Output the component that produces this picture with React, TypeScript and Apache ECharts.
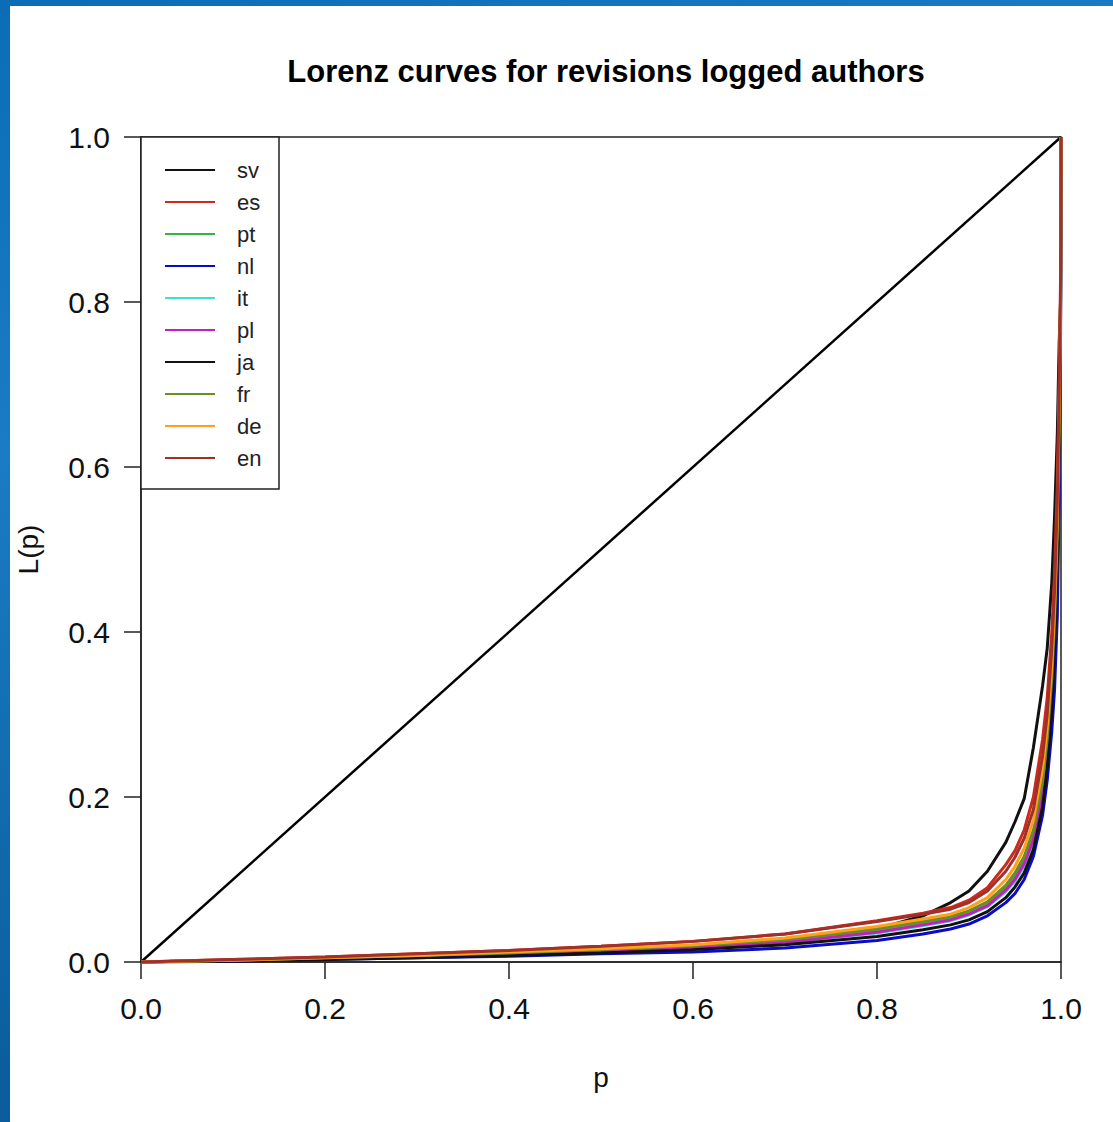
import React, { useEffect, useRef } from "react";
import * as echarts from "echarts";

const titleText = "Lorenz curves for revisions logged authors";
const xName = "p";
const yName = "L(p)";

const languages = ["sv", "es", "pt", "nl", "it", "pl", "ja", "fr", "de", "en"];
const colors = ["#111111", "#cc2a1a", "#3cb043", "#0a0acc", "#3fe0d0", "#c020c0", "#111111", "#6b8e23", "#ff9f1a", "#a0302a"];

const pValues = [0, 0.1, 0.2, 0.3, 0.4, 0.5, 0.6, 0.7, 0.8, 0.85, 0.88, 0.9, 0.92, 0.94, 0.95, 0.96, 0.97, 0.98, 0.985, 0.99, 0.993, 0.996, 0.998, 0.9995, 1.0];

const sv = [0, 0.002, 0.004, 0.006, 0.009, 0.012, 0.017, 0.025, 0.040, 0.056, 0.072, 0.086, 0.110, 0.145, 0.170, 0.198, 0.260, 0.335, 0.380, 0.460, 0.540, 0.640, 0.750, 0.800, 1.0];
const es = [0, 0.003, 0.006, 0.010, 0.014, 0.019, 0.025, 0.034, 0.050, 0.059, 0.066, 0.075, 0.090, 0.118, 0.135, 0.160, 0.200, 0.270, 0.320, 0.400, 0.470, 0.580, 0.700, 0.800, 1.0];
const pt = [0, 0.002, 0.004, 0.007, 0.010, 0.014, 0.018, 0.025, 0.037, 0.046, 0.052, 0.059, 0.070, 0.089, 0.103, 0.122, 0.152, 0.210, 0.258, 0.330, 0.400, 0.505, 0.630, 0.780, 1.0];
const nl = [0, 0.001, 0.003, 0.005, 0.007, 0.010, 0.012, 0.017, 0.026, 0.034, 0.040, 0.046, 0.056, 0.072, 0.083, 0.100, 0.128, 0.178, 0.220, 0.280, 0.330, 0.420, 0.560, 0.760, 1.0];
const it = [0, 0.002, 0.004, 0.007, 0.010, 0.013, 0.017, 0.024, 0.035, 0.044, 0.050, 0.057, 0.067, 0.085, 0.098, 0.116, 0.145, 0.200, 0.248, 0.320, 0.390, 0.495, 0.620, 0.780, 1.0];
const pl = [0, 0.002, 0.004, 0.007, 0.010, 0.013, 0.017, 0.024, 0.036, 0.045, 0.051, 0.058, 0.068, 0.087, 0.100, 0.119, 0.148, 0.205, 0.252, 0.325, 0.395, 0.500, 0.625, 0.780, 1.0];
const ja = [0, 0.001, 0.003, 0.005, 0.008, 0.011, 0.015, 0.021, 0.031, 0.039, 0.045, 0.051, 0.061, 0.078, 0.091, 0.108, 0.136, 0.188, 0.235, 0.305, 0.375, 0.480, 0.610, 0.770, 1.0];
const fr = [0, 0.002, 0.005, 0.008, 0.011, 0.015, 0.020, 0.027, 0.040, 0.049, 0.055, 0.062, 0.073, 0.093, 0.108, 0.128, 0.160, 0.220, 0.270, 0.345, 0.415, 0.520, 0.650, 0.790, 1.0];
const de = [0, 0.002, 0.005, 0.008, 0.012, 0.016, 0.021, 0.029, 0.043, 0.052, 0.058, 0.066, 0.078, 0.100, 0.116, 0.138, 0.172, 0.235, 0.285, 0.360, 0.430, 0.540, 0.670, 0.810, 1.0];
const en = [0, 0.003, 0.006, 0.010, 0.014, 0.019, 0.025, 0.034, 0.049, 0.058, 0.064, 0.072, 0.086, 0.110, 0.127, 0.150, 0.185, 0.250, 0.300, 0.380, 0.450, 0.560, 0.690, 0.830, 1.0];

const curves = [sv, es, pt, nl, it, pl, ja, fr, de, en];
const diagonal = [[0, 0], [1, 1]];

const FONT = "'Liberation Sans', Arial, Helvetica, sans-serif";

export default function App() {
  const ref = useRef<HTMLDivElement>(null);

  useEffect(() => {
    document.body.style.margin = "0";
    const chart = echarts.init(ref.current!, null, { renderer: "svg" });

    const gridLeft = 131;
    const gridTop = 131;

    const series: any[] = [
      {
        name: "equality",
        type: "line",
        data: diagonal,
        showSymbol: false,
        symbol: "none",
        lineStyle: { color: "#000", width: 2.5 },
        z: 2,
      },
    ];
    languages.forEach((lang, i) => {
      series.push({
        name: lang,
        type: "line",
        data: pValues.map((p, j) => [p, curves[i][j]]),
        showSymbol: false,
        symbol: "none",
        lineStyle: { color: colors[i], width: 3 },
        z: 3,
      });
    });

    const legendItems: any[] = [
      {
        type: "rect",
        shape: { x: gridLeft, y: gridTop, width: 138, height: 352 },
        style: { fill: "#fff", stroke: "#222", lineWidth: 1.5 },
        z: 10,
      },
    ];
    languages.forEach((lang, i) => {
      const y = 164 + 32 * i;
      legendItems.push({
        type: "line",
        shape: { x1: 155, y1: y, x2: 205, y2: y },
        style: { stroke: colors[i], lineWidth: 2 },
        z: 11,
      });
      legendItems.push({
        type: "text",
        x: 227,
        y: y,
        style: {
          text: lang,
          font: `22px ${FONT}`,
          fill: "#222",
          verticalAlign: "middle",
        },
        z: 11,
      });
    });

    const axisCommon = {
      type: "value" as const,
      min: 0,
      max: 1,
      interval: 0.2,
      splitLine: { show: false },
      axisLine: { show: true, onZero: false, lineStyle: { color: "#222", width: 1.5 } },
      axisTick: { show: true, length: 17, lineStyle: { color: "#222", width: 1.5 } },
      axisLabel: {
        showMinLabel: true,
        showMaxLabel: true,
        fontFamily: FONT,
        fontSize: 30,
        color: "#111",
        formatter: (v: number) => v.toFixed(1),
      },
      nameLocation: "middle" as const,
      nameTextStyle: { fontFamily: FONT, fontSize: 28, color: "#111" },
    };

    chart.setOption({
      animation: false,
      backgroundColor: "#ffffff",
      title: {
        text: titleText,
        left: 591,
        top: 45,
        textAlign: "center",
        textStyle: { fontFamily: FONT, fontSize: 31, fontWeight: "bold", color: "#000" },
      },
      grid: {
        left: gridLeft,
        top: gridTop,
        width: 920,
        height: 825,
        show: true,
        borderColor: "#222",
        borderWidth: 1.5,
        backgroundColor: "transparent",
        containLabel: false,
        outerBoundsMode: "none",
      },
      xAxis: {
        ...axisCommon,
        name: xName,
        nameGap: 101,
        axisLabel: { ...axisCommon.axisLabel, margin: 31 },
      },
      yAxis: {
        ...axisCommon,
        name: yName,
        nameGap: 99,
        axisLabel: { ...axisCommon.axisLabel, margin: 31 },
      },
      series,
      graphic: legendItems,
    });

    return () => chart.dispose();
  }, []);

  return (
    <div
      style={{
        position: "fixed",
        left: 0,
        top: 0,
        width: 1113,
        height: 1122,
        background: "linear-gradient(160deg, #0a6db5 0%, #1a7cc4 30%, #0b5e9e 70%, #084f86 100%)",
        overflow: "hidden",
      }}
    >
      <div
        ref={ref}
        style={{ position: "absolute", left: 10, top: 6, width: 1103, height: 1116, background: "#fff" }}
      />
    </div>
  );
}
